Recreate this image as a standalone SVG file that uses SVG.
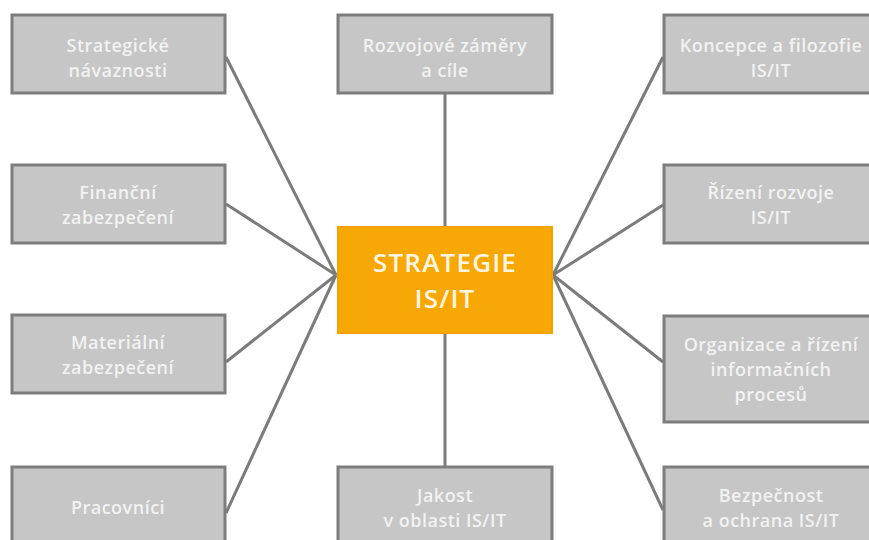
<svg xmlns="http://www.w3.org/2000/svg" width="869" height="540" viewBox="0 0 869 540">
<style>
.box{fill:#c6c6c6;stroke:#7d7d7d;stroke-width:3}
.t{font-family:"Open Sans","Liberation Sans",sans-serif;font-size:18px;font-weight:600;letter-spacing:0.5px;fill:#f2f2f2;text-anchor:middle}
.c{fill:#f8a805;stroke:#f3a200;stroke-width:2}
.ct{font-family:"Open Sans","Liberation Sans",sans-serif;font-size:26px;font-weight:600;letter-spacing:1.2px;fill:#fff6e0;text-anchor:middle}
.ln{stroke:#7b7b7b;stroke-width:3;fill:none}
</style>
<rect width="869" height="540" fill="#ffffff"/>
<g id="connectors">
<line class="ln" x1="226" y1="57" x2="336" y2="275"/>
<line class="ln" x1="226" y1="204" x2="336" y2="275"/>
<line class="ln" x1="226" y1="362" x2="336" y2="275"/>
<line class="ln" x1="226" y1="513" x2="336" y2="275"/>
<line class="ln" x1="663" y1="57" x2="553" y2="275"/>
<line class="ln" x1="663" y1="205" x2="553" y2="275"/>
<line class="ln" x1="663" y1="362" x2="553" y2="275"/>
<line class="ln" x1="663" y1="510" x2="553" y2="275"/>
<line class="ln" x1="445" y1="93" x2="445" y2="226"/>
<line class="ln" x1="445" y1="333" x2="445" y2="467"/>
</g>
<g id="n1"><rect class="box" x="12" y="15" width="213" height="78"/><text class="t" x="118" y="52">Strategické</text><text class="t" x="118" y="77">návaznosti</text></g>
<g id="n2"><rect class="box" x="12" y="165" width="213" height="78"/><text class="t" x="118" y="199">Finanční</text><text class="t" x="118" y="224">zabezpečení</text></g>
<g id="n3"><rect class="box" x="12" y="315" width="213" height="78"/><text class="t" x="118" y="349">Materiální</text><text class="t" x="118" y="374">zabezpečení</text></g>
<g id="n4"><rect class="box" x="12" y="467" width="213" height="85"/><text class="t" x="118" y="514">Pracovníci</text></g>
<g id="n5"><rect class="box" x="338" y="15" width="214" height="78"/><text class="t" x="445" y="52">Rozvojové záměry</text><text class="t" x="445" y="77">a cíle</text></g>
<g id="n6"><rect class="box" x="338" y="467" width="214" height="85"/><text class="t" x="445" y="502">Jakost</text><text class="t" x="445" y="527">v oblasti IS/IT</text></g>
<g id="n7"><rect class="box" x="664" y="15" width="215" height="78"/><text class="t" x="771" y="52">Koncepce a filozofie</text><text class="t" x="771" y="77">IS/IT</text></g>
<g id="n8"><rect class="box" x="664" y="165" width="215" height="78"/><text class="t" x="771" y="199">Řízení rozvoje</text><text class="t" x="771" y="224">IS/IT</text></g>
<g id="n9"><rect class="box" x="664" y="316" width="215" height="106"/><text class="t" x="771" y="351">Organizace a řízení</text><text class="t" x="771" y="376">informačních</text><text class="t" x="771" y="401">procesů</text></g>
<g id="n10"><rect class="box" x="664" y="467" width="215" height="85"/><text class="t" x="771" y="502">Bezpečnost</text><text class="t" x="771" y="527">a ochrana IS/IT</text></g>
<g id="center"><rect class="c" x="338" y="227" width="214" height="106"/><text class="ct" x="445" y="272">STRATEGIE</text><text class="ct" x="445" y="308">IS/IT</text></g>
</svg>
